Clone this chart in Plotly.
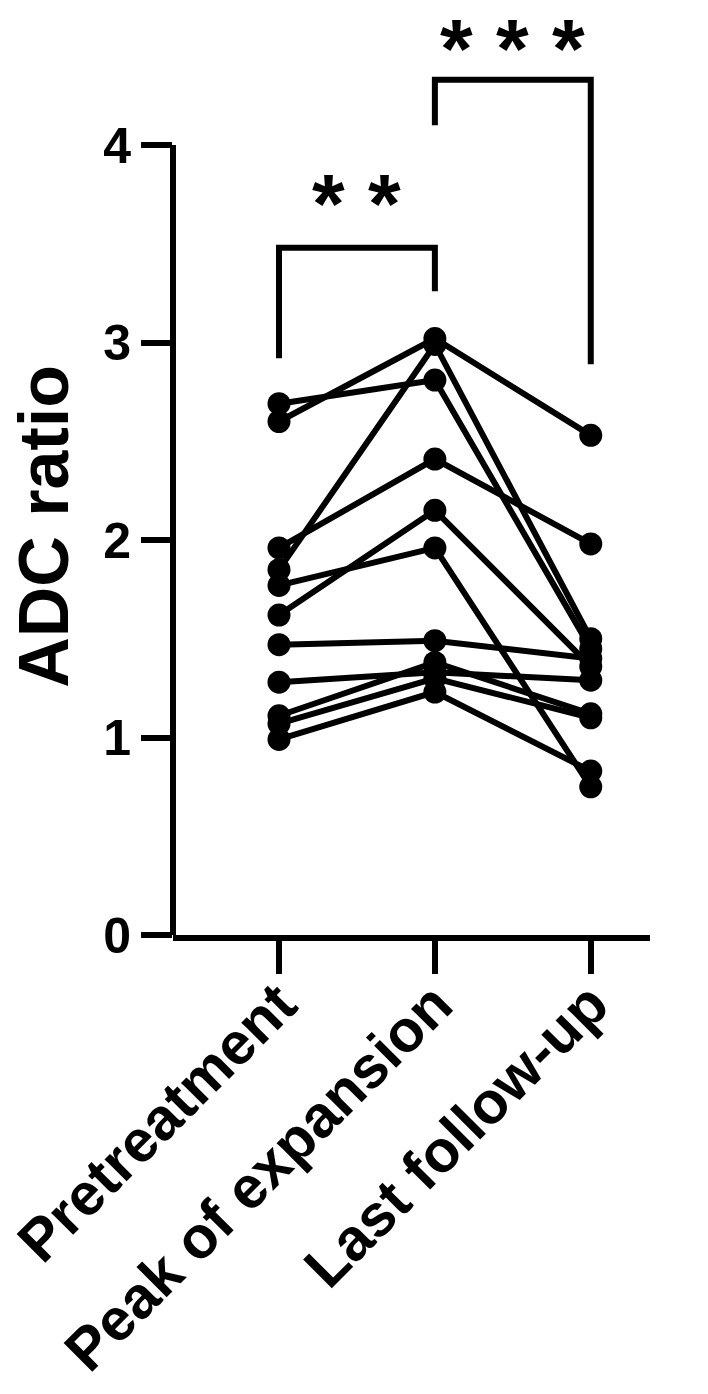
import plotly.graph_objects as go

categories = ["Pretreatment", "Peak of expansion", "Last follow-up"]

# ADC ratio per subject: [pretreatment, peak of expansion, last follow-up]
subjects = [
    [2.69, 2.81, 1.45],
    [2.60, 3.02, 2.53],
    [1.85, 2.99, 1.50],
    [1.96, 2.41, 1.98],
    [1.62, 2.15, 1.36],
    [1.77, 1.96, 0.75],
    [1.47, 1.49, 1.40],
    [1.28, 1.33, 1.29],
    [1.11, 1.38, 1.12],
    [1.07, 1.30, 1.10],
    [0.99, 1.23, 0.83],
]

y_ticks = [0, 1, 2, 3, 4]
y_tick_labels = ["0", "1", "2", "3", "4"]
y_title = "ADC ratio"

# significance brackets
bracket1_x = [0, 0, 1, 1]
bracket1_y = [2.92, 3.48, 3.48, 3.26]
bracket1_label = "* *"
bracket2_x = [1, 1, 2, 2]
bracket2_y = [4.10, 4.33, 4.33, 2.89]
bracket2_label = "* * *"

FONT = "Liberation Sans"

xi = list(range(len(categories)))

fig = go.Figure()
for s in subjects:
    fig.add_trace(go.Scatter(
        x=xi, y=s, mode="lines+markers",
        line=dict(color="black", width=6),
        marker=dict(color="black", size=23),
        showlegend=False, hoverinfo="skip", cliponaxis=False,
    ))

for bx, by in [(bracket1_x, bracket1_y), (bracket2_x, bracket2_y)]:
    fig.add_trace(go.Scatter(
        x=bx, y=by, mode="lines",
        line=dict(color="black", width=6),
        showlegend=False, hoverinfo="skip",
    ))

star_font = dict(family=FONT, size=84, color="black", weight="bold")
fig.add_annotation(x=0.5, y=3.70, xref="x", yref="y", text=bracket1_label,
                   showarrow=False, font=star_font)
fig.add_annotation(x=1.5, y=1.0, xref="x", yref="paper", yanchor="top", text=bracket2_label,
                   showarrow=False, font=star_font)

# y-axis title (centred near the 0-4 axis span)
fig.add_annotation(x=-0.355, xref="paper", y=2.07, yref="y", text=y_title, textangle=-90,
                   showarrow=False, font=dict(family=FONT, size=70, color="black", weight="bold"))

# y-axis line only from 0 to 4
fig.add_shape(type="line", xref="paper", yref="y", x0=0, x1=0, y0=0, y1=4,
              line=dict(color="black", width=6))

ytop = 935 / 197.5
fig.update_layout(
    width=708, height=1394,
    margin=dict(l=173, r=58, t=0, b=459, autoexpand=False),
    paper_bgcolor="white", plot_bgcolor="white",
    font=dict(family=FONT, color="black"),
    xaxis=dict(
        range=[-0.68, 2.38], tickmode="array", tickvals=xi, ticktext=categories,
        tickangle=-45, ticks="outside", ticklen=33, tickwidth=6, tickcolor="black",
        ticklabelstandoff=-28,
        showline=True, linewidth=6, linecolor="black", showgrid=False, zeroline=False,
        automargin=False,
        tickfont=dict(family=FONT, size=59, color="black", weight="bold"),
    ),
    yaxis=dict(
        range=[0, ytop], tickmode="array", tickvals=y_ticks, ticktext=y_tick_labels,
        ticks="outside", ticklen=31, tickwidth=6, tickcolor="black",
        showline=False, showgrid=False, zeroline=False, automargin=False,
        tickfont=dict(family=FONT, size=50, color="black", weight="bold"),
    ),
)

fig.write_html("out.html")
